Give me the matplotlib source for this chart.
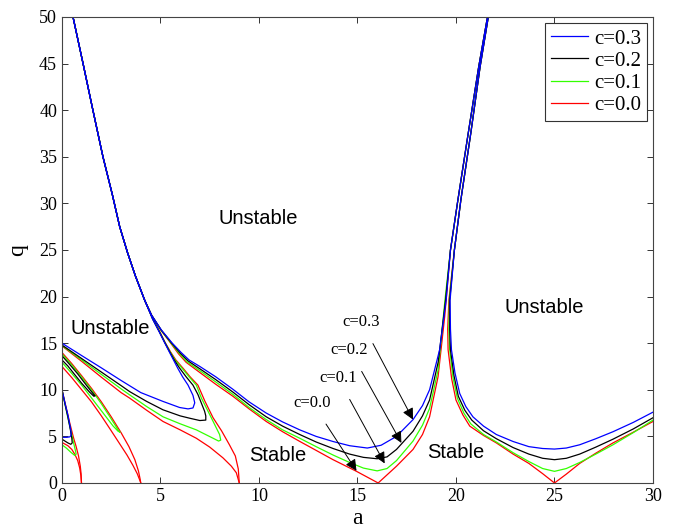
#!/usr/bin/env python3
"""
Stability chart of the damped Mathieu equation, transition curves for c = 0.0 .. 0.3
"""

import matplotlib
matplotlib.use("Agg")
import matplotlib.pyplot as plt
from matplotlib.lines import Line2D

# --- data, (a, q) points ---

# shared steep part near the top of the left bundle
top_left = [(0.56, 50), (1.07, 45), (1.57, 40), (2.08, 35), (2.55, 31), (2.93, 27.5),
            (3.33, 24.7), (3.73, 22.2), (4.2, 19.6)]
# near the top of the two right bundles
top_mid = [(19.72, 25), (20.1, 30.4), (20.62, 37.5), (21.15, 44.6), (21.6, 50)]
top_right = [(21.64, 50), (21.22, 44.6), (20.75, 37.5), (20.25, 30.4), (19.92, 25)]

# small loops / cusp near a = 1
t1_blue = [(0, 10.0), (0.15, 8.6), (0.3, 7.3), (0.4, 6.2), (0.46, 5.5), (0.46, 5.1),
           (0.4, 4.95), (0.25, 4.9), (0, 4.9)]
t1_black = [(0, 10.0), (0.15, 8.5), (0.3, 7.1), (0.42, 5.8), (0.5, 4.8), (0.52, 4.3),
            (0.45, 4.15), (0.3, 4.3), (0.15, 4.5), (0, 4.7)]
t1_green = [(0, 10.0), (0.15, 8.5), (0.3, 7.0), (0.45, 5.6), (0.58, 4.4), (0.68, 3.5),
            (0.72, 3.1), (0.65, 2.95), (0.45, 3.3), (0.22, 3.75), (0, 4.1)]
t1_red_up = [(0, 10.0), (0.2, 8.2), (0.4, 6.4), (0.58, 4.9), (0.72, 3.9), (0.84, 2.9),
             (0.93, 1.8), (0.97, 1.0), (0.99, 0.0)]
t1_red_lo = [(0, 4.35), (0.3, 4.0), (0.5, 3.6), (0.66, 3.05), (0.8, 2.4), (0.9, 1.6),
             (0.96, 0.8), (0.99, 0.0)]

# loops / cusp near a = 4
t4_black = [(0, 13.65), (0.4, 12.7), (0.8, 11.7), (1.2, 10.6), (1.5, 9.8), (1.68, 9.35),
            (1.62, 9.3), (1.4, 9.75), (1.0, 10.7), (0.6, 11.75), (0.3, 12.55), (0, 13.2)]
t4_green = [(0, 13.85), (0.5, 12.65), (1.0, 11.35), (1.5, 10.0), (2.0, 8.5), (2.4, 7.2),
            (2.7, 6.2), (2.88, 5.6), (2.95, 5.45), (2.85, 5.55), (2.6, 6.1), (2.2, 7.2),
            (1.8, 8.3), (1.4, 9.4), (1.0, 10.5), (0.5, 11.75), (0, 12.95)]
t4_red_up = [(0, 14.0), (0.5, 12.8), (1.0, 11.5), (1.5, 10.15), (2.0, 8.7), (2.5, 7.1),
             (3.0, 5.4), (3.4, 3.9), (3.7, 2.5), (3.88, 1.3), (3.97, 0.4), (4.0, 0)]
t4_red_lo = [(0, 12.5), (0.5, 11.3), (1.0, 10.0), (1.5, 8.7), (2.0, 7.2), (2.5, 5.6),
             (2.9, 4.3), (3.3, 3.0), (3.6, 1.9), (3.82, 1.0), (3.95, 0.3), (4.0, 0)]

# nose near a = 9 (from a = 0 up to the split point)
nose_blue = [(0, 15.0), (1, 13.67), (2, 12.35), (3, 11.0), (4, 9.7), (5.13, 8.75),
             (5.97, 8.1), (6.4, 7.95), (6.65, 8.05), (6.74, 8.6), (6.65, 9.4), (6.4, 10.5),
             (6.12, 11.4), (5.88, 12.3), (5.66, 13.2), (5.44, 14.1), (5.2, 15.1),
             (4.94, 16.2), (4.6, 17.6), (4.2, 19.6)]
nose_black = [(0, 14.8), (1, 13.35), (2, 11.9), (3, 10.45), (3.44, 9.8), (4.3, 8.75),
              (5.13, 7.85), (6.0, 7.2), (6.48, 6.95), (7.0, 6.7), (7.3, 6.75), (7.3, 7.2),
              (7.24, 7.7), (6.9, 9.5), (6.65, 10.5), (6.3, 11.4), (5.98, 12.3),
              (5.7, 13.2), (5.46, 14.1), (5.21, 15.1), (4.95, 16.2), (4.6, 17.6),
              (4.2, 19.6)]
nose_green = [(0, 14.75), (1, 13.2), (2, 11.65), (3, 10.1), (3.44, 9.45), (4.3, 8.2),
              (5.13, 7.1), (6.0, 6.35), (6.82, 5.7), (7.67, 4.8), (7.95, 4.5), (8.06, 4.6),
              (8.0, 5.2), (7.58, 7.0), (7.08, 9.1), (6.82, 10.5), (6.45, 11.4),
              (6.1, 12.3), (5.74, 13.2), (5.48, 14.1), (5.22, 15.1), (4.96, 16.2),
              (4.61, 17.6), (4.2, 19.6)]
nose_red_lo = [(0, 14.7), (1, 13.05), (2, 11.35), (3, 9.7), (3.44, 9.1), (4.3, 7.8),
               (5.13, 6.6), (6.0, 5.7), (6.82, 4.8), (7.5, 3.85), (8.17, 2.7), (8.6, 1.8),
               (8.85, 1.1), (9.0, 0)]
nose_red_up = [(9.0, 0), (8.95, 1.5), (8.8, 2.9), (8.5, 4.1), (8.1, 5.6), (7.67, 7.0),
               (7.25, 8.8), (6.9, 10.5), (6.5, 11.4), (6.15, 12.3), (5.78, 13.2),
               (5.5, 14.1), (5.23, 15.1), (4.97, 16.2), (4.62, 17.6), (4.2, 19.6)]

# main curve: split point -> minimum near a = 16 -> up to q = 19.6
main_blue = [(4.2, 19.6), (4.55, 18.0), (5.05, 16.4), (5.6, 15.0), (6.05, 14.0),
             (6.45, 13.2), (7.0, 12.5), (7.8, 11.4), (8.68, 10.05), (9.5, 8.7),
             (10.37, 7.5), (11.2, 6.55), (12.07, 5.7), (12.9, 5.0), (13.76, 4.45),
             (14.6, 4.0), (15.5, 3.75), (16.2, 4.05), (16.98, 5.0), (17.82, 6.8),
             (18.3, 8.3), (18.66, 10.0), (19.17, 14.3), (19.5, 19.6)]
main_black = [(4.2, 19.6), (4.55, 18.0), (5.04, 16.4), (5.57, 15.0), (6.0, 13.95),
              (6.4, 13.1), (7.0, 12.25), (7.8, 11.1), (8.68, 9.75), (9.5, 8.4),
              (10.37, 7.1), (11.2, 6.1), (12.07, 5.2), (12.9, 4.4), (13.76, 3.7),
              (14.6, 3.1), (15.3, 2.75), (16.0, 2.6), (16.5, 2.8), (16.98, 3.6),
              (17.82, 5.55), (18.3, 7.2), (18.66, 8.9), (19.1, 13.0), (19.47, 19.6)]
main_green = [(4.2, 19.6), (4.55, 18.0), (5.03, 16.4), (5.54, 15.0), (5.96, 13.9),
              (6.35, 13.0), (7.0, 12.05), (7.8, 10.85), (8.68, 9.5), (9.5, 8.1),
              (10.37, 6.8), (11.2, 5.7), (12.07, 4.8), (12.9, 3.9), (13.76, 3.0),
              (14.6, 2.2), (15.3, 1.6), (16.0, 1.3), (16.5, 1.55), (16.98, 2.4),
              (17.82, 4.5), (18.3, 6.2), (18.66, 8.0), (19.1, 12.2), (19.44, 19.6)]
main_red = [(4.2, 19.6), (4.55, 18.0), (5.02, 16.4), (5.52, 15.0), (5.92, 13.85),
            (6.3, 12.95), (7.0, 11.85), (7.8, 10.6), (8.68, 9.3), (9.5, 7.95),
            (10.37, 6.6), (11.2, 5.5), (12.07, 4.46), (12.9, 3.5), (13.76, 2.5),
            (14.95, 1.25), (16.05, 0.0), (16.98, 1.8), (17.82, 3.6), (18.3, 5.2),
            (18.66, 7.1), (19.09, 11.4), (19.43, 17.9), (19.5, 19.6)]

# right curve: q = 19.6 -> minimum near a = 25 -> a = 30
right_blue = [(19.7, 19.6), (19.72, 16.5), (19.77, 14.3), (19.95, 11.8),
              (20.19, 9.6), (20.5, 8.2), (20.86, 7.1), (21.4, 6.1), (22.05, 5.2),
              (22.9, 4.45), (23.7, 3.9), (24.4, 3.7), (25.0, 3.64), (25.6, 3.75),
              (26.28, 4.1), (27.1, 4.75), (27.97, 5.5), (29.0, 6.5), (30, 7.6)]
right_black = [(19.68, 19.6), (19.68, 16.5), (19.72, 14.3), (19.9, 11.5),
               (20.12, 9.3), (20.45, 7.8), (20.8, 6.75), (21.4, 5.6), (22.05, 4.75),
               (22.9, 3.8), (23.7, 3.1), (24.4, 2.65), (25.0, 2.5), (25.6, 2.65),
               (26.28, 3.1), (27.1, 3.85), (27.97, 4.7), (29.0, 5.8), (30, 7.0)]
right_green = [(19.66, 19.6), (19.64, 16.5), (19.68, 14.3), (19.85, 11.3),
               (20.07, 9.1), (20.4, 7.5), (20.75, 6.35), (21.4, 5.2), (22.05, 4.4),
               (22.9, 3.25), (23.7, 2.3), (24.4, 1.55), (25.0, 1.25), (25.6, 1.55),
               (26.28, 2.2), (27.1, 3.1), (27.97, 4.1), (29.0, 5.4), (30, 6.75)]
right_red = [(19.64, 19.6), (19.58, 16.5), (19.6, 14.3), (19.78, 11.2),
             (20.0, 8.9), (20.35, 7.3), (20.7, 6.1), (21.4, 5.1), (22.05, 4.3),
             (22.9, 3.1), (23.7, 2.1), (24.4, 1.0), (25.0, 0.0), (25.6, 0.95),
             (26.28, 2.1), (27.1, 3.2), (27.97, 4.3), (29.0, 5.45), (30, 6.6)]

labels = ['c=0.3', 'c=0.2', 'c=0.1', 'c=0.0']
colors = ['#0000ff', '#000000', '#33ff00', '#ff0000']

# annotation text position and arrow tip (a, q)
note_text = [(15.2, 17.3), (14.6, 14.3), (14.0, 11.3), (12.7, 8.6)]
note_tip = [(17.82, 6.8), (17.23, 4.3), (16.38, 2.1), (14.95, 1.3)]

region_labels = ['Unstable', 'Unstable', 'Unstable', 'Stable', 'Stable']
region_pos = [(9.95, 28.4), (2.47, 16.6), (24.5, 18.8), (10.95, 3.0), (20.0, 3.3)]


def xy(points):
    return [p[0] for p in points], [p[1] for p in points]


def main():
    serif = ['Liberation Serif', 'DejaVu Serif']
    sans = ['Liberation Sans', 'DejaVu Sans']

    fig = plt.figure(figsize=(6.78, 5.30), dpi=100)
    ax = fig.add_axes([0.0914, 0.0887, 0.8717, 0.8793])

    curves = [
        [t1_blue, nose_blue + top_left[::-1], top_left + main_blue + top_mid,
         top_right + right_blue],
        [t1_black, t4_black, nose_black + top_left[::-1], top_left + main_black + top_mid,
         top_right + right_black],
        [t1_green, t4_green, nose_green + top_left[::-1], top_left + main_green + top_mid,
         top_right + right_green],
        [t1_red_up, t1_red_lo, t4_red_up, t4_red_lo, nose_red_lo,
         nose_red_up + top_left[::-1], top_left + main_red + top_mid,
         top_right + right_red],
    ]

    # draw c=0.0 first so blue ends on top
    for color, group in reversed(list(zip(colors, curves))):
        for pts in group:
            xs, ys = xy(pts)
            ax.plot(xs, ys, color=color, lw=0.9, solid_joinstyle='round')

    for txt, (ta, tq), (ha_, hq) in zip(labels, note_text, note_tip):
        ax.annotate(txt, xy=(ha_, hq), xytext=(ta, tq), ha='center', va='center',
                    fontsize=12, family=serif,
                    arrowprops=dict(arrowstyle='-|>', color='k', lw=0.7,
                                    mutation_scale=17, shrinkA=9, shrinkB=0))

    for txt, (x, y) in zip(region_labels, region_pos):
        ax.text(x, y, txt, ha='center', va='center', fontsize=14.5, family=sans)

    handles = [Line2D([], [], color=c, lw=0.9) for c in colors]
    leg = ax.legend(handles, labels, loc='upper right', prop={'family': serif, 'size': 15},
                    fancybox=False, framealpha=1, edgecolor='#333333',
                    handlelength=1.75, handletextpad=0.3, borderpad=0.3,
                    labelspacing=0.12, borderaxespad=0.28)
    leg.get_frame().set_linewidth(0.8)

    ax.set_xlim(0, 30)
    ax.set_ylim(0, 50)
    ax.set_xticks(range(0, 31, 5))
    ax.set_yticks(range(0, 51, 5))
    ax.tick_params(direction='in', top=True, right=True, length=4, width=0.7,
                   labelsize=13, colors='#333333', labelcolor='black')
    for lab in ax.get_xticklabels() + ax.get_yticklabels():
        lab.set_family(serif)
    for sp in ax.spines.values():
        sp.set_color('#444444')
        sp.set_linewidth(0.8)

    ax.set_xlabel('a', family=serif, fontsize=17, labelpad=2)
    ax.set_ylabel('q', family=serif, fontsize=17, labelpad=8)

    fig.savefig('out.png', dpi=100, facecolor='white')
    plt.close(fig)


if __name__ == "__main__":
    main()
